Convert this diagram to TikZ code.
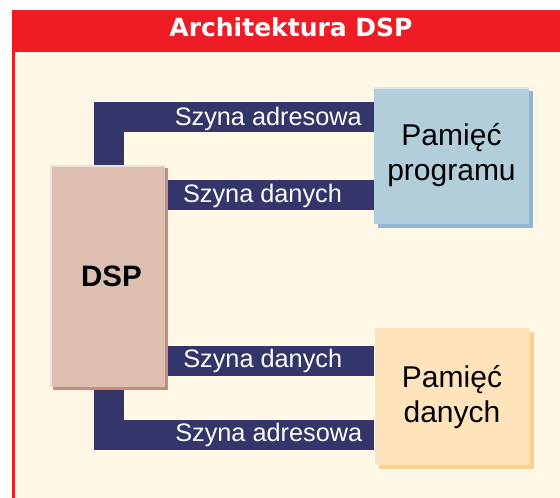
\documentclass[tikz,border=0pt]{standalone}
\usepackage{fontspec}
\setmainfont{Liberation Sans}
\newfontfamily\titlefont{DejaVu Sans}
\usetikzlibrary{positioning,shadows,backgrounds}

\definecolor{cream}{HTML}{FFF8E6}
\definecolor{framered}{HTML}{EE1C25}
\definecolor{busblue}{HTML}{34356A}
\definecolor{dspfill}{HTML}{DDBFB2}
\definecolor{dspedge}{HTML}{C98B7B}
\definecolor{dsplight}{HTML}{EFE0D8}
\definecolor{progfill}{HTML}{B3CEDB}
\definecolor{progedge}{HTML}{8FB6D2}
\definecolor{proglight}{HTML}{DCE6EA}
\definecolor{datafill}{HTML}{FFE4BB}
\definecolor{dataedge}{HTML}{FFD08C}

\begin{document}
\begin{tikzpicture}[x=1pt,y=-1pt,
    mem node/.style={rectangle,inner sep=0pt,minimum width=155pt,minimum height=137pt,
        align=center,font=\fontsize{30}{35}\selectfont},
    bus/.style={draw=busblue,line width=30pt},
    bus label/.style={text=white,inner sep=0pt,outer sep=0pt,font=\fontsize{25.3}{28}\selectfont}]

        % Define blocks
        \node[rectangle,inner sep=0pt,minimum width=115pt,minimum height=222pt,fill=dspfill,
            drop shadow={shadow xshift=3pt,shadow yshift=-3pt,fill=dspedge,opacity=1},
            font=\bfseries\fontsize{29.5}{32}\selectfont] (dsp) at (107.5,276) {\hspace*{8pt}DSP};
        \node[mem node,fill=progfill,
            drop shadow={shadow xshift=4pt,shadow yshift=-4pt,fill=progedge,opacity=1}]
            (prog) at (451.5,155.5) {Pamięć\\programu};
        \node[mem node,fill=datafill,below=104pt of prog,xshift=0.5pt,
            drop shadow={shadow xshift=4pt,shadow yshift=-4pt,fill=dataedge,opacity=1}]
            (data) {Pamięć\\danych};

        % Highlights
        \draw[dsplight,line width=2pt] ([xshift=1pt]dsp.south west) -- ([xshift=1pt,yshift=-1pt]dsp.north west) -- ([yshift=-1pt]dsp.north east);
        \draw[proglight,line width=2pt] ([yshift=-1pt]prog.north west) -- ([yshift=-1pt]prog.north east);

        % Bus end points
        \coordinate (prog addr) at ([yshift=38.5pt]prog.west);
        \coordinate (prog dat) at ([yshift=-39pt]prog.west);
        \coordinate (data dat) at ([yshift=36pt]data.west);
        \coordinate (data addr) at ([yshift=-38.5pt]data.west);

        \begin{scope}[on background layer]
        % Frame
        \fill[white] (0,0) rectangle (560,498);
        \fill[cream] (12,52) rectangle (560,498);
        \fill[framered] (12,10) rectangle (560,52);
        \fill[framered] (12,52) rectangle (15,498);

        % Draw buses
        \draw[bus] ([xshift=1.5pt]dsp.north) |- (prog addr)
            node[bus label,anchor=base east,xshift=-12pt,yshift=-8pt] {Szyna adresowa};
        \draw[bus] (dsp.east |- prog dat) -- (prog dat)
            node[midway,bus label,anchor=base,xshift=-7pt,yshift=-7.5pt] {Szyna danych};
        \draw[bus] (dsp.east |- data dat) -- (data dat)
            node[midway,bus label,anchor=base,xshift=-7pt,yshift=-7pt] {Szyna danych};
        \draw[bus] ([xshift=1.5pt,yshift=-3pt]dsp.south) |- (data addr)
            node[bus label,anchor=base east,xshift=-12pt,yshift=-6pt] {Szyna adresowa};
        \end{scope}

        \node[text=white,inner sep=0pt,anchor=base,font=\titlefont\bfseries\fontsize{25}{28}\selectfont]
            (title) at (291,36) {Architektura DSP};
        \useasboundingbox (0,0) rectangle (560,498);

        \end{tikzpicture}
\end{document}
